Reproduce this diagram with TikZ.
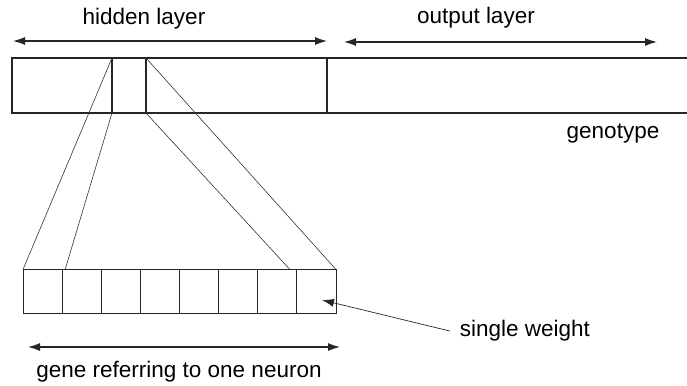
\documentclass[tikz,border=0pt]{standalone}
\usepackage{fontspec}
\setmainfont{Liberation Sans}
\usetikzlibrary{arrows.meta,calc}
\begin{document}
\begin{tikzpicture}[x=1pt,y=-1pt,
  bar/.style={draw=black!85,line width=1.1pt},
  fan/.style={draw=black!80,line width=0.6pt},
  dim/.style={draw=black!85,line width=1.1pt,{Latex[length=12pt,width=8pt]}-{Latex[length=12pt,width=8pt]}},
  pointer/.style={draw=black!85,line width=0.7pt,-{Latex[length=12pt,width=8pt]}},
  lbl/.style={inner sep=0pt,font=\fontsize{22.5}{26}\selectfont},
  cell/.style={draw=black!85,line width=0.8pt,minimum width=39.125pt,minimum height=44pt,inner sep=0pt,outer sep=0pt}]
\useasboundingbox (0,0) rectangle (687,385);

% genotype strip (open to the right)
\coordinate (gTL) at (12,58);
\coordinate (gBL) at (12,113);
\coordinate (gTR) at (687,58);
\coordinate (gBR) at (687,113);
\draw[bar] (gTR) -- (gTL) -- (gBL) -- (gBR);
\coordinate (n1t) at (112,58);  \coordinate (n1b) at (112,113);
\coordinate (n2t) at (146,58);  \coordinate (n2b) at (146,113);
\coordinate (hot) at (327,58);  \coordinate (hob) at (327,113);
\draw[bar] (n1t) -- (n1b);
\draw[bar] (n2t) -- (n2b);
\draw[bar] (hot) -- (hob);

% layer extents
\coordinate (hL) at (13,41);  \coordinate (hR) at (327,41);
\coordinate (oL) at (344,42); \coordinate (oR) at (657,42);
\draw[dim] (hL) -- (hR);
\draw[dim] (oL) -- (oR);
\node[lbl] (hidden) at (144,19) {hidden layer};
\node[lbl] (output) at (476,18) {output layer};
\node[lbl] (genotype) at (613,134) {genotype};

% one gene, eight weights
\foreach \i in {1,...,8}
  \node[cell] (c\i) at ({23+39.125*(\i-0.5)},291.5) {};

% fan from the gene in the strip to its expanded view
\draw[fan] (n1t) -- (c1.north west);
\draw[fan] (n1b) -- ($(c2.north west)+(3,0)$);
\draw[fan] (n2b) -- ($(c7.north east)+(-7,0)$);
\draw[fan] (n2t) -- (c8.north east);

% single weight label
\node[lbl] (weight) at (525,331) {single weight};
\coordinate (wtip) at (322,300);
\draw[pointer] ($(weight.west)+(-10,0)$) -- (wtip);

% gene extent
\coordinate (geL) at (28,347); \coordinate (geR) at (340,347);
\draw[dim] (geL) -- (geR);
\node[lbl] (gene) at (179,372) {gene referring to one neuron};
\end{tikzpicture}
\end{document}
